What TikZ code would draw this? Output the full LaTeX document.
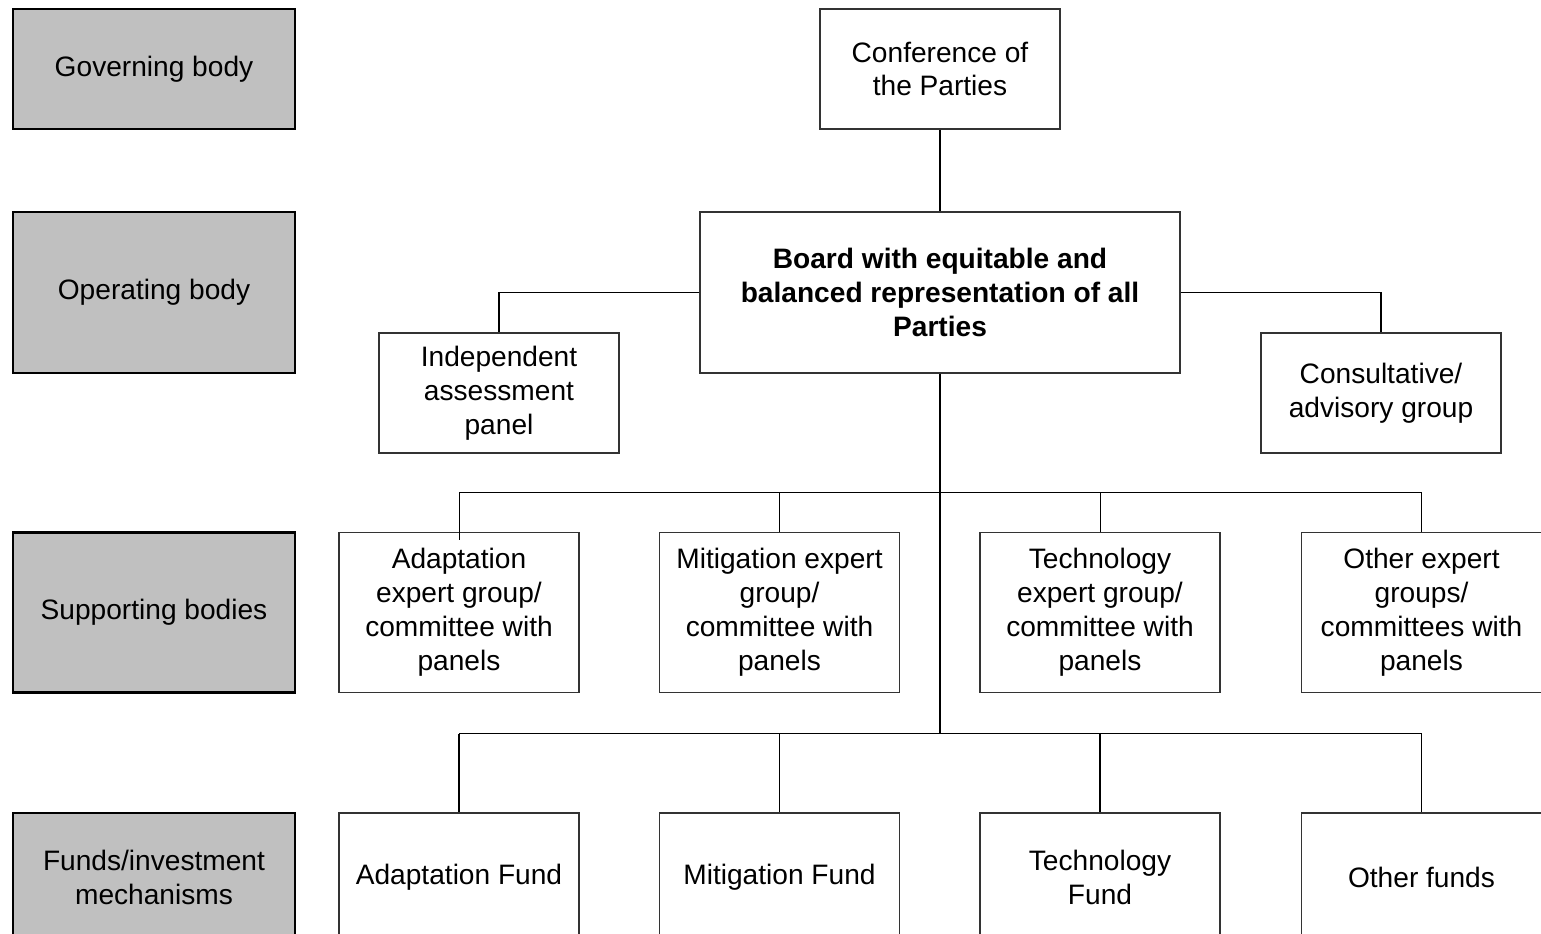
\documentclass[tikz,border=0pt]{standalone}
\usepackage{fontspec}
\setmainfont{Liberation Sans}
\usepackage{tikz}
\usetikzlibrary{calc}
\definecolor{levelgray}{HTML}{C0C0C0}
\definecolor{boxline}{HTML}{333333}
\tikzstyle{level} = [rectangle, minimum width = 5.64cm, minimum height=2.4cm, text centered, align=center, draw = black, line width=1.6pt, fill = levelgray]
\tikzstyle{body} = [rectangle, minimum width = 4.8cm, minimum height=2.4cm, text centered, align=center, draw = boxline, line width=0.6pt, fill = white]
\tikzstyle{bus} = [line width=1.1pt]
\tikzstyle{link} = [line width=0.5pt]

\begin{document}
\begin{tikzpicture}[node distance=1.5cm, font=\fontsize{16}{19.3}\selectfont]
	\useasboundingbox (0,0) rectangle (30.82,-18.68);
	\clip (0,0) rectangle (30.82,-18.68);
	%levels on the left
	\node (Gov) [level] at (3.08,-1.38) {Governing body};
	\node (Op) [level,below of=Gov,yshift=-2.97cm,minimum height=3.22cm] {Operating body};
	\node (Sup) [level,below of=Op,yshift=-4.9cm,minimum height=3.2cm] {Supporting bodies};
	\node (Fund) [level,below of=Sup,yshift=-3.79cm,minimum height=2.56cm] {Funds/investment\\mechanisms};
	%top of the structure
	\node (CoP) [body,right of=Gov,xshift=14.22cm] {Conference of\\the Parties};
	\node (Board) [body,below of=CoP,yshift=-2.97cm,minimum width=9.6cm,minimum height=3.22cm,font=\fontsize{16}{19.3}\selectfont\bfseries] {Board with equitable and\\balanced representation of all\\Parties};
	\node (IAP) [body,below of=Board,xshift=-8.82cm,yshift=-0.51cm] {Independent\\assessment\\panel};
	\node (CAG) [body,below of=Board,xshift=8.82cm,yshift=-0.51cm] {Consultative/\\advisory group};
	%supporting bodies
	\node (SupA) [body,right of=Sup,xshift=4.6cm,minimum height=3.2cm] {Adaptation\\expert group/\\committee with\\panels};
	\node (SupM) [body,right of=SupA,xshift=4.91cm,minimum height=3.2cm] {Mitigation expert\\group/\\committee with\\panels};
	\node (SupT) [body,right of=SupM,xshift=4.91cm,minimum height=3.2cm] {Technology\\expert group/\\committee with\\panels};
	\node (SupO) [body,right of=SupT,xshift=4.93cm,minimum height=3.2cm] {Other expert\\groups/\\committees with\\panels};
	%funds
	\node (FundA) [body,right of=Fund,xshift=4.6cm,minimum height=2.56cm] {Adaptation Fund};
	\node (FundM) [body,right of=FundA,xshift=4.91cm,minimum height=2.56cm] {Mitigation Fund};
	\node (FundT) [body,right of=FundM,xshift=4.91cm,minimum height=2.56cm] {Technology\\Fund};
	\node (FundO) [body,right of=FundT,xshift=4.93cm,minimum height=2.56cm] {Other funds};
	\coordinate (BusA) at ($(Board.south)+(0,-2.38)$);
	\coordinate (BusB) at ($(SupA.south)+(0,-0.81)$);
	\draw [bus](CoP) -- (Board);
	\draw [bus](Board.west) -| (IAP.north);
	\draw [bus](Board.east) -| (CAG.north);
	\draw [bus](Board.south) -- (BusA);
	\draw [bus](SupA.north |- BusA) -- (SupO.north |- BusA);
	\draw [link](SupA.north |- BusA) -- ($(SupA.north)+(0,-0.16)$);
	\draw [link](SupM.north |- BusA) -- (SupM.north);
	\draw [link](SupT.north |- BusA) -- (SupT.north);
	\draw [link](SupO.north |- BusA) -- (SupO.north);
	\draw [link]($(SupA.east)!0.5!(SupM.west)$ |- BusA) -- ($(SupA.east)!0.5!(SupM.west)$ |- BusB);
	\draw [bus,line width=0.8pt](BusA) -- (BusA |- BusB);
	\draw [link]($(SupT.east)!0.5!(SupO.west)$ |- BusA) -- ($(SupT.east)!0.5!(SupO.west)$ |- BusB);
	\draw [bus](FundA.north |- BusB) -- (FundO.north |- BusB);
	\draw [bus](FundA.north |- BusB) -- (FundA.north);
	\draw [link](FundM.north |- BusB) -- (FundM.north);
	\draw [bus](FundT.north |- BusB) -- (FundT.north);
	\draw [link](FundO.north |- BusB) -- (FundO.north);
\end{tikzpicture}
\end{document}
